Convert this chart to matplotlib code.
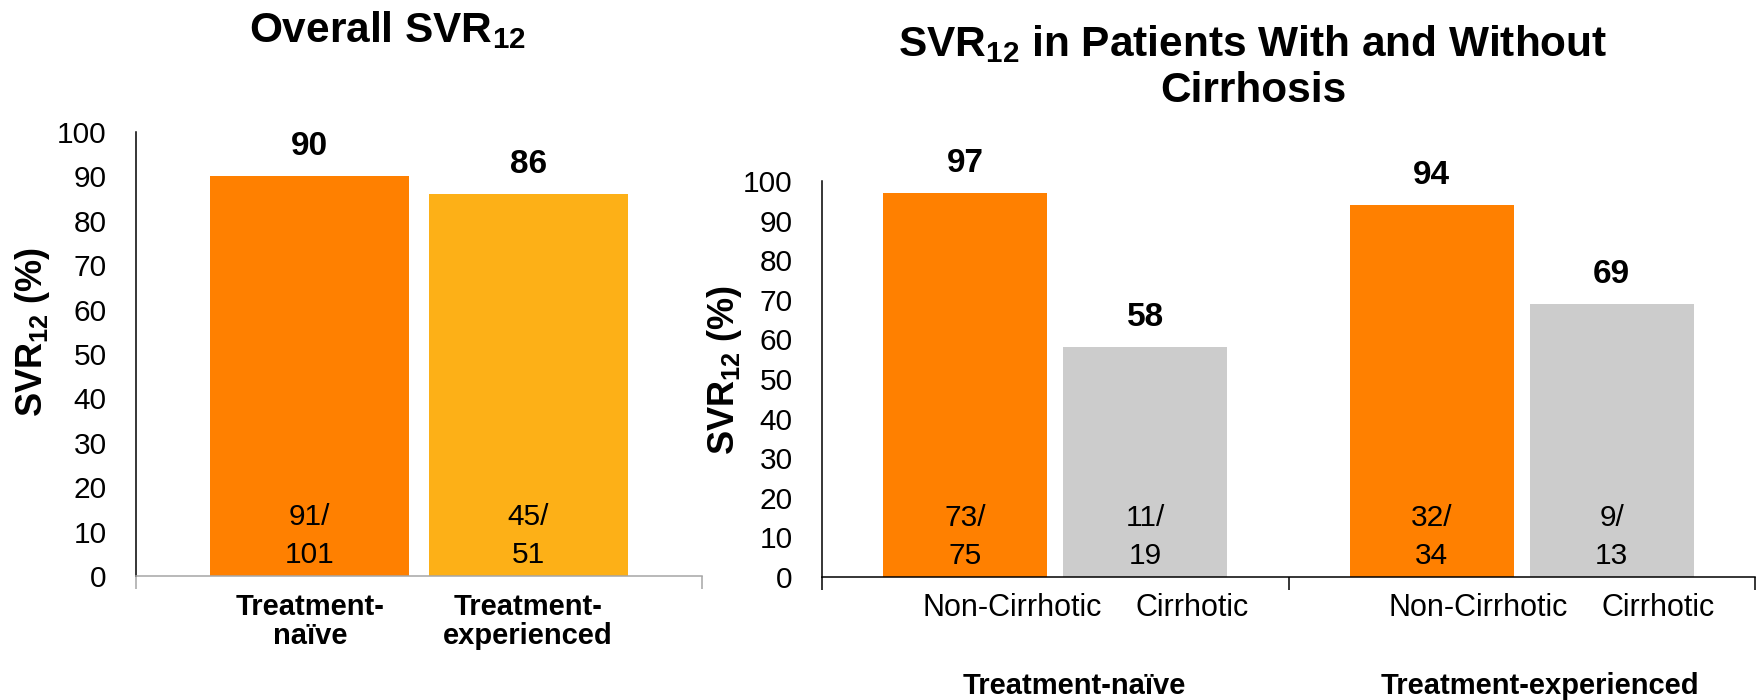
import matplotlib
matplotlib.use("Agg")
import matplotlib.pyplot as plt
import numpy as np

plt.rcParams['font.family'] = ['Liberation Sans', 'DejaVu Sans']
plt.rcParams['mathtext.default'] = 'regular'

# ---- data ----
overall_labels = ["Treatment-\nnaïve", "Treatment-\nexperienced"]
overall_values = [90, 86]
overall_counts = [("91/", "101"), ("45/", "51")]
overall_colors = ["#FF8000", "#FDB017"]

groups = ["Treatment-naïve", "Treatment-experienced"]
subgroups = ["Non-Cirrhotic", "Cirrhotic"]
cirr_values = [[97, 58], [94, 69]]
cirr_counts = [[("73/", "75"), ("11/", "19")], [("32/", "34"), ("9/", "13")]]
sub_colors = ["#FF8000", "#CCCCCC"]

yticks = list(range(0, 101, 10))

W, H = 1762, 700
fig = plt.figure(figsize=(W / 100, H / 100), dpi=100)

def fx(px):
    return px / W

def fy(py):
    return (H - py) / H

ax1 = fig.add_axes([fx(136), fy(576), (702 - 136) / W, (576 - 132) / H])
ax2 = fig.add_axes([fx(822), fy(577), (1755 - 822) / W, (577 - 181) / H])

TICK_FS = 21.5
VAL_FS = 24
CNT_FS = 21.5

def style_axis(ax, bottom_color, nxt):
    ax.set_ylim(0, 100)
    ax.set_xlim(0, nxt)
    ax.set_yticks(yticks)
    ax.set_yticklabels([str(t) for t in yticks], fontsize=TICK_FS)
    ax.tick_params(axis='y', length=0, pad=21)
    ax.set_xticks(list(range(nxt + 1)))
    ax.set_xticklabels([''] * (nxt + 1))
    ax.tick_params(axis='x', length=9.5, width=1.1, color=bottom_color, direction='out')
    for s in ['top', 'right']:
        ax.spines[s].set_visible(False)
    ax.spines['left'].set_color('black')
    ax.spines['left'].set_linewidth(1.1)
    ax.spines['bottom'].set_color(bottom_color)
    ax.spines['bottom'].set_linewidth(1.1)

def count_labels(ax, x, pair):
    ax.annotate(pair[0], xy=(x, 0), xytext=(0, 51), textcoords='offset pixels',
                ha='center', va='baseline', fontsize=CNT_FS, color='black')
    ax.annotate(pair[1], xy=(x, 0), xytext=(0, 13), textcoords='offset pixels',
                ha='center', va='baseline', fontsize=CNT_FS, color='black')

# ---- left panel ----
style_axis(ax1, '#A6A6A6', 1)
off = 0.193
bw = 0.352
xs1 = [0.5 - off, 0.5 + off]
ax1.bar(xs1, overall_values, width=bw, color=overall_colors, zorder=2)
for x, v, c, lab in zip(xs1, overall_values, overall_counts, overall_labels):
    ax1.annotate(str(v), xy=(x, v), xytext=(0, 21), textcoords='offset pixels',
                 ha='center', va='baseline', fontsize=VAL_FS, fontweight='bold')
    count_labels(ax1, x, c)
    ax1.annotate(lab, xy=(x, 0), xytext=(0, -17), textcoords='offset pixels',
                 ha='center', va='top', fontsize=21, fontweight='bold',
                 linespacing=1.05, annotation_clip=False)

# ---- right panel ----
style_axis(ax2, 'black', len(groups))
for gi, g in enumerate(groups):
    center = gi + 0.5
    for si, s in enumerate(subgroups):
        x = center + (-off if si == 0 else off)
        v = cirr_values[gi][si]
        ax2.bar(x, v, width=bw, color=sub_colors[si], zorder=2)
        ax2.annotate(str(v), xy=(x, v), xytext=(0, 21), textcoords='offset pixels',
                     ha='center', va='baseline', fontsize=VAL_FS, fontweight='bold')
        count_labels(ax2, x, cirr_counts[gi][si])
        ax2.annotate(s, xy=(x + 0.1, 0), xytext=(0, -16), textcoords='offset pixels',
                     ha='center', va='top', fontsize=22, annotation_clip=False)
    ax2.annotate(g, xy=(center + 0.04, 0), xytext=(0, -117), textcoords='offset pixels',
                 ha='center', va='baseline', fontsize=21, fontweight='bold',
                 annotation_clip=False)

# ---- titles and axis labels ----
fig.text(fx(387), fy(42), "Overall SVR$_{12}$", ha='center', va='baseline',
         fontsize=30.5, fontweight='bold')
fig.text(fx(1253), fy(56), "SVR$_{12}$ in Patients With and Without", ha='center',
         va='baseline', fontsize=30.5, fontweight='bold')
fig.text(fx(1253), fy(102), "Cirrhosis", ha='center', va='baseline',
         fontsize=30.5, fontweight='bold')
fig.text(fx(33), fy(332), "SVR$_{12}$ (%)", rotation=90, ha='center', va='center',
         fontsize=26, fontweight='bold')
fig.text(fx(725), fy(370), "SVR$_{12}$ (%)", rotation=90, ha='center', va='center',
         fontsize=26, fontweight='bold')

fig.savefig("out.png", dpi=100)
